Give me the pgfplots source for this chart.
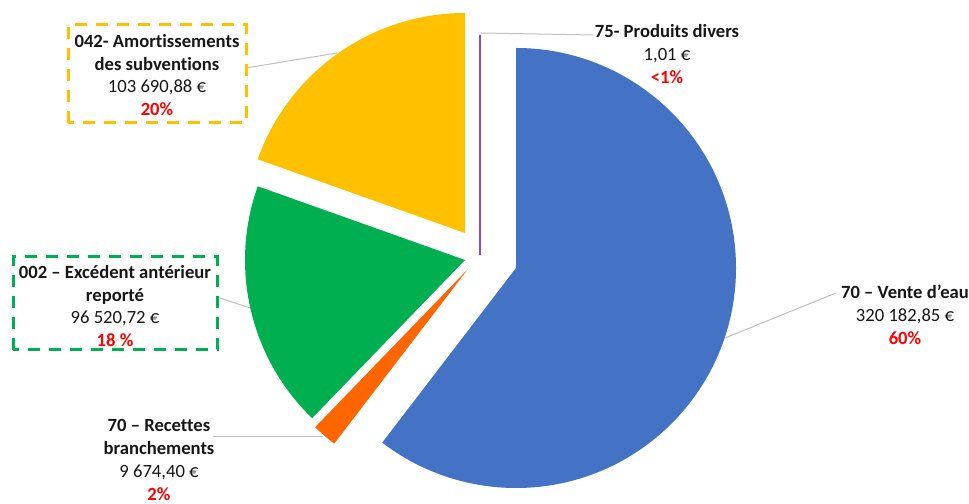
\documentclass[border=0pt]{standalone}
\usepackage{pgfplots}
\pgfplotsset{compat=1.18}
\usepackage{pgfplotstable}
\usepackage{fontspec}
\setmainfont{Carlito}[Ligatures=NoCommon]
\definecolor{cBlue}{HTML}{4472C4}
\definecolor{cOrange}{HTML}{FF6600}
\definecolor{cGreen}{HTML}{00B050}
\definecolor{cYellow}{HTML}{FFC000}
\definecolor{cPurple}{HTML}{8A4CC8}
\definecolor{cRed}{HTML}{FF0000}
\definecolor{cLead}{HTML}{BFBFBF}
\definecolor{cText}{HTML}{161616}

% value, apex of the (exploded) slice in px (y up)
\pgfplotstableread{
id value ax ay
0 320182.85 516 236
1 9674.40 468 235
2 96520.72 465 244
3 103690.88 465 271
4 1.01 480 249
}\slices

\def\total{0}
\pgfplotsforeachungrouped \i in {0,...,4}{%
  \pgfplotstablegetelem{\i}{value}\of\slices
  \xdef\total{\fpeval{\total+\pgfplotsretval}}%
}
\def\cur{90}
\pgfplotsforeachungrouped \i in {0,...,4}{%
  \pgfplotstablegetelem{\i}{value}\of\slices
  \expandafter\xdef\csname sa\i\endcsname{\cur}%
  \xdef\cur{\fpeval{\cur-360*\pgfplotsretval/\total}}%
  \expandafter\xdef\csname ea\i\endcsname{\cur}%
  \pgfplotstablegetelem{\i}{ax}\of\slices
  \expandafter\xdef\csname ax\i\endcsname{\pgfplotsretval}%
  \pgfplotstablegetelem{\i}{ay}\of\slices
  \expandafter\xdef\csname ay\i\endcsname{\pgfplotsretval}%
}

\tikzset{
  slice0/.style={fill=cBlue},
  slice1/.style={fill=cOrange},
  slice2/.style={fill=cGreen},
  slice3/.style={fill=cYellow},
  slice4/.style={fill=cPurple, draw=cPurple, line width=2.2bp},
  lbl/.style={align=center, text=cText, font=\fontsize{18.7}{22.8}\selectfont},
}

\begin{document}
\begin{tikzpicture}
\begin{axis}[
  name=ax,
  x=1bp, y=1bp,
  xmin=0, xmax=969, ymin=0, ymax=504,
  hide axis, clip=false,
]
\addplot[draw=none, forget plot] coordinates {(0,0) (969,504)};

\pgfplotsinvokeforeach{0,...,4}{%
  \edef\doslice{\noexpand\path[slice#1] (axis cs:\csname ax#1\endcsname,\csname ay#1\endcsname) -- ++(\csname sa#1\endcsname:220bp) arc[start angle=\csname sa#1\endcsname, end angle=\csname ea#1\endcsname, radius=220bp] -- cycle;}%
  \doslice
}

% leader lines
\addplot[cLead, line width=1bp, forget plot] coordinates {(246,436) (337,451)};
\addplot[cLead, line width=1bp, forget plot] coordinates {(481,471) (593,469)};
\addplot[cLead, line width=1bp, forget plot] coordinates {(217,207) (250,196)};
\addplot[cLead, line width=1bp, forget plot] coordinates {(213,67) (323,67)};
\addplot[cLead, line width=1bp, forget plot] coordinates {(836,211) (725,166)};

% dashed boxes
\draw[cYellow, line width=3bp, dash pattern=on 12bp off 9bp] (axis cs:68,381) rectangle (axis cs:246,479);
\draw[cGreen, line width=3bp, dash pattern=on 12bp off 9bp] (axis cs:13,154) rectangle (axis cs:217,247);

% labels
\node[lbl] at (axis cs:157,429) {\textbf{042- Amortissements}\\\textbf{des subventions}\\103 690,88 €\\\textcolor{cRed}{\textbf{20\%}}};
\node[lbl] at (axis cs:667,450) {\textbf{75- Produits divers}\\1,01 €\\\textcolor{cRed}{\textbf{<1\%}}};
\node[lbl] at (axis cs:115,198) {\textbf{002 – Excédent antérieur}\\\textbf{reporté}\\96 520,72 €\\\textcolor{cRed}{\textbf{18 \%}}};
\node[lbl] at (axis cs:159,44) {\textbf{70 – Recettes}\\\textbf{branchements}\\9 674,40 €\\\textcolor{cRed}{\textbf{2\%}}};
\node[lbl] at (axis cs:905,189) {\textbf{70 – Vente d’eau}\\320 182,85 €\\\textcolor{cRed}{\textbf{60\%}}};
\end{axis}
\pgfresetboundingbox
\useasboundingbox (ax.south west) rectangle (ax.north east);
\end{tikzpicture}
\end{document}
